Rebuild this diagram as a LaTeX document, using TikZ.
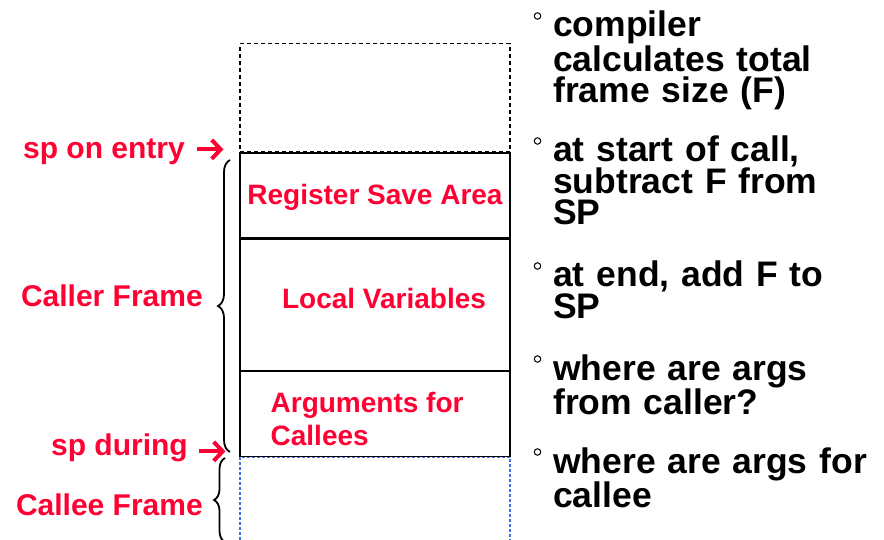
\documentclass[tikz,border=0pt]{standalone}
\usepackage{fontspec}
\setmainfont{Liberation Sans}
\usetikzlibrary{positioning,arrows.meta,decorations.pathreplacing}
\definecolor{slidered}{HTML}{FF0033}
\definecolor{calleeblue}{HTML}{3D6FE0}

\begin{document}
\begin{tikzpicture}[x=1pt,y=-1pt,
    slot/.style={draw,rectangle,minimum width=270pt,inner sep=0pt,line width=1.1pt},
    lbl/.style={text=slidered,font=\fontsize{30}{30}\selectfont\bfseries,inner sep=0pt},
    inlbl/.style={text=slidered,font=\fontsize{28}{33}\selectfont\bfseries,align=left,inner sep=0pt},
    item/.style={font=\fontsize{35.5}{31.3}\selectfont\bfseries,align=left,text width=330pt,inner sep=0pt,anchor=base west},
    dot/.style={circle,draw,line width=1pt,minimum size=6.5pt,inner sep=0pt},
    ptr/.style={-{Straight Barb[length=9pt,width=19pt,line width=4pt]},line width=4pt,slidered},
    brc/.style={decorate,decoration={brace,amplitude=12pt},line width=1.8pt},
  ]
    \useasboundingbox (0,0) rectangle (884,540);
    \clip (0,0) rectangle (884,540);

    % stack slots
    \node[slot,minimum height=85pt] (rsa) at (375,195.5) {};
    \node[slot,minimum height=131pt,below=0pt of rsa] (locals) {};
    \node[slot,minimum height=85pt,below=0pt of locals] (args) {};
    \node[slot,dashed,dash pattern=on 4pt off 3pt,minimum height=108pt,above=0pt of rsa] (spare) {};
    \node[slot,dash pattern=on 3pt off 2pt,draw=calleeblue,minimum height=95pt,below=0pt of args] (callee) {};

    \node[inlbl,yshift=-2pt] (rsatext) at (rsa) {Register Save Area};
    \node[inlbl,xshift=9pt,yshift=6pt] (localstext) at (locals) {Local Variables};
    \node[inlbl,anchor=west] (argstext) at ([xshift=31pt,yshift=-5pt]args.west) {Arguments for\\Callees};

    % stack pointer marks
    \node[lbl,anchor=base east] (entry) at (185,159) {sp on entry};
    \node[lbl,anchor=base east] (during) at (188,455) {sp during};
    \draw[ptr,shorten <=12pt,shorten >=16pt] ([yshift=7pt]entry.mid east) -- ([yshift=7pt]entry.mid east -| rsa.west);
    \draw[ptr,shorten <=11pt,shorten >=14pt] ([yshift=1pt]during.mid east) -- ([yshift=1pt]during.mid east -| args.west);

    % frames
    \node[lbl,anchor=base east] (caller) at (203,306) {Caller Frame};
    \node[lbl,anchor=base east] (calleelbl) at (203,515) {Callee Frame};
    \draw[brc] (230,452) -- (230,160);
    \draw[brc,decoration={amplitude=11pt}] (225,542) -- (225,458);

    % notes
    \node[item] (it1) at (553,37) {compiler\\calculates total\\frame size (F)};
    \node[item] (it2) at (553,162) {at start of call,\\subtract F from\\SP};
    \node[item] (it3) at (553,287) {at end, add F to\\SP};
    \node[item] (it4) at (553,380) {where are args\\from caller?};
    \node[item] (it5) at (553,473) {where are args for\\callee};
    \foreach \i in {1,...,5}
      \node[dot] (b\i) at ([xshift=-15.5pt,yshift=21pt]it\i.base west) {};
\end{tikzpicture}
\end{document}
